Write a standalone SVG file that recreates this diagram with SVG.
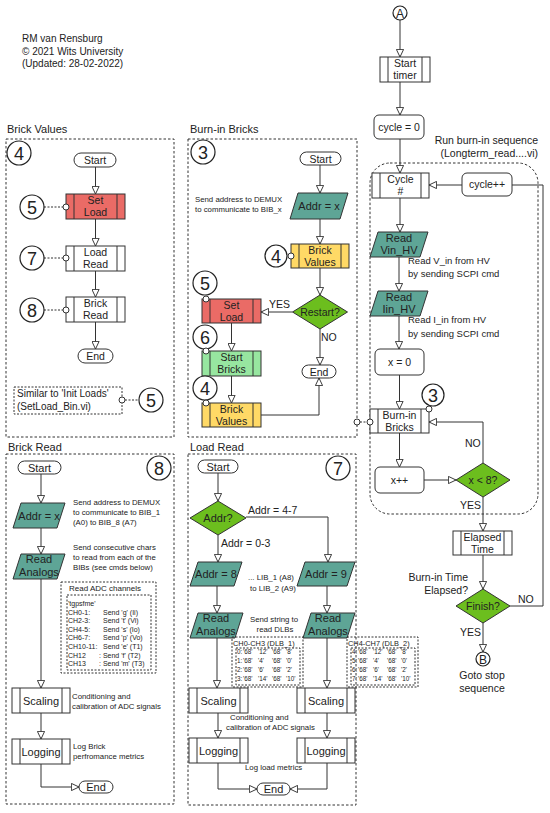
<svg xmlns="http://www.w3.org/2000/svg" width="550" height="813" viewBox="0 0 550 813">
<defs>
<marker id="ah" viewBox="0 0 10 10" refX="10" refY="5" markerWidth="8" markerHeight="8" markerUnits="userSpaceOnUse" orient="auto"><path d="M0.5,0.5 L10,5 L0.5,9.5 z" fill="#fff" stroke="#333" stroke-width="1.2"/></marker>
<style>
text{font-family:"Liberation Sans",Arial,sans-serif;fill:#222}
.t{font-size:10.5px;text-anchor:middle}
.t11{font-size:11px;text-anchor:middle}
.ttl{font-size:11px}
.an{font-size:7.8px}
.an9{font-size:9.5px}
.lbl{font-size:10.5px}
.num{font-size:18px;text-anchor:middle}
.tb{font-size:6.3px}
.tb7{font-size:7px}
.box{stroke:#333;stroke-width:1}
.w{fill:#fff}
.red{fill:#EA6B66}
.yel{fill:#FFD966}
.lg{fill:#97E6A0}
.gr{fill:#6CBE1E}
.teal{fill:#5EA596}
.panel{fill:none;stroke:#333;stroke-width:1;stroke-dasharray:2.5,2}
.dot{fill:none;stroke:#333;stroke-width:1;stroke-dasharray:2,1.5}
.ln{fill:none;stroke:#333;stroke-width:1}
.arr{fill:none;stroke:#333;stroke-width:1;marker-end:url(#ah)}
.sc{fill:#fff;stroke:#333;stroke-width:1}
.cn{fill:#fff;stroke:#222;stroke-width:1.2}
</style>
</defs>
<rect width="550" height="813" fill="#fff"/>

<g id="header">
<text x="22" y="42" style="font-size:10px">RM van Rensburg</text>
<text x="22" y="55" style="font-size:10px">© 2021 Wits University</text>
<text x="22" y="67" style="font-size:10px">(Updated: 28-02-2022)</text>
</g>

<!-- Panels -->
<g id="panel-brick-values">
<text class="ttl" x="7" y="133">Brick Values</text>
<rect class="panel" x="6" y="139" width="168" height="298"/>
<circle class="cn" cx="19" cy="153" r="12"/><text class="num" x="19" y="159.5">4</text>
</g>
<g id="panel-burnin">
<text class="ttl" x="190" y="133">Burn-in Bricks</text>
<rect class="panel" x="188" y="139" width="169" height="298"/>
<circle class="cn" cx="203" cy="152" r="12"/><text class="num" x="203" y="158.5">3</text>
</g>
<g id="panel-brick-read">
<text class="ttl" x="8" y="451">Brick Read</text>
<rect class="panel" x="6" y="454" width="168" height="350"/>
<circle class="cn" cx="159" cy="468" r="12"/><text class="num" x="159" y="474.5">8</text>
</g>
<g id="panel-load-read">
<text class="ttl" x="190" y="451">Load Read</text>
<rect class="panel" x="188" y="454" width="168" height="351"/>
<circle class="cn" cx="338" cy="468" r="12"/><text class="num" x="338" y="474.5">7</text>
</g>
<g id="region-burnin-seq">
<rect class="panel" x="370" y="163" width="168" height="351" rx="20"/>
<text x="538" y="144" style="font-size:10.5px;text-anchor:end">Run burn-in sequence</text>
<text x="538" y="157" style="font-size:10.5px;text-anchor:end">(Longterm_read....vi)</text>
</g>

<!-- Connectors -->
<g id="connectors">
<path class="arr" d="M95.5,167 V194"/>
<path class="arr" d="M95.5,219 V246"/>
<path class="arr" d="M95.5,271 V297"/>
<path class="arr" d="M95.5,322 V349"/>
<path class="dot" d="M44,207 H63 M44,258 H63 M44,310 H63 M125,400 H139"/>
<path class="arr" d="M320,165 V193"/>
<path class="arr" d="M320,219 V244"/>
<path class="arr" d="M320,268 V295"/>
<path class="arr" d="M320,329 V365"/>
<path class="arr" d="M292.5,312 H261"/>
<path class="arr" d="M231.5,323 V351"/>
<path class="arr" d="M231.5,376 V403"/>
<path class="arr" d="M261,415 H319 V378"/>
<path class="dot" d="M360,422 H367"/>
<path class="arr" d="M400,20 V57"/>
<path class="arr" d="M400,82 V115"/>
<path class="arr" d="M400,139 V173"/>
<path class="arr" d="M400,198 V232"/>
<path class="arr" d="M399,257 V291"/>
<path class="arr" d="M399,316 V349"/>
<path class="arr" d="M399.5,375 V409"/>
<path class="arr" d="M399.5,433 V467"/>
<path class="arr" d="M424,480 H456"/>
<path class="arr" d="M483,463 V422 H429"/>
<path class="arr" d="M483,497 V531"/>
<path class="arr" d="M483,555 V589"/>
<path class="ln" d="M510,606 H543 V185 H512"/>
<path class="arr" d="M462,185 H429"/>
<path class="arr" d="M483,623 V652"/>
<path class="arr" d="M41,474 V503"/>
<path class="arr" d="M41,528 V554"/>
<path class="arr" d="M41,579 V688"/>
<path class="arr" d="M41,713 V739"/>
<path class="arr" d="M41,764 V787 H79"/>
<path class="arr" d="M218,473 V501"/>
<path class="arr" d="M246,517 H328 V562"/>
<path class="arr" d="M218,535 V562"/>
<path class="arr" d="M217,586 V613"/>
<path class="arr" d="M327,586 V613"/>
<path class="arr" d="M217,638 V688"/>
<path class="arr" d="M327,638 V688"/>
<path class="arr" d="M218,713 V738"/>
<path class="arr" d="M327,713 V738"/>
<path class="arr" d="M218,763 V789 H257"/>
<path class="arr" d="M327,763 V789 H290"/>
</g>

<!-- Brick Values nodes -->
<g id="bv-start"><rect class="box w" x="74" y="153" width="42" height="14" rx="7"/><text class="t" x="95" y="164">Start</text></g>
<g id="bv-setload"><rect class="box red" x="66" y="194" width="59" height="25"/><path class="ln" d="M74,194 V219 M117,194 V219"/><text class="t" x="95.5" y="204">Set</text><text class="t" x="95.5" y="216">Load</text></g>
<g id="bv-loadread"><rect class="box w" x="66" y="246" width="59" height="25"/><path class="ln" d="M74,246 V271 M117,246 V271"/><text class="t" x="95.5" y="256">Load</text><text class="t" x="95.5" y="268">Read</text></g>
<g id="bv-brickread"><rect class="box w" x="66" y="297" width="59" height="25"/><path class="ln" d="M74,297 V322 M117,297 V322"/><text class="t" x="95.5" y="307">Brick</text><text class="t" x="95.5" y="319">Read</text></g>
<g id="bv-end"><rect class="box w" x="78" y="349" width="35" height="14" rx="7"/><text class="t" x="95.5" y="360">End</text></g>
<g id="bv-refs">
<circle class="cn" cx="32" cy="207" r="12"/><text class="num" x="32" y="213.5">5</text><circle class="sc" cx="66" cy="207" r="3"/>
<circle class="cn" cx="32" cy="258" r="12"/><text class="num" x="32" y="264.5">7</text><circle class="sc" cx="66" cy="258" r="3"/>
<circle class="cn" cx="32" cy="310" r="12"/><text class="num" x="32" y="316.5">8</text><circle class="sc" cx="66" cy="310" r="3"/>
</g>
<g id="bv-note">
<rect class="dot" x="14" y="387" width="108" height="27"/>
<text x="17" y="397" style="font-size:10px">Similar to 'Init Loads'</text>
<text x="17" y="410" style="font-size:10px">(SetLoad_Bin.vi)</text>
<circle class="sc" cx="122" cy="400" r="3"/>
<circle class="cn" cx="151" cy="400" r="12"/><text class="num" x="151" y="406.5">5</text>
</g>

<!-- Burn-in Bricks nodes -->
<g id="bb-start"><rect class="box w" x="300" y="152" width="41" height="13" rx="6.5"/><text class="t" x="320.5" y="162.5">Start</text></g>
<g id="bb-addr"><path class="box teal" d="M298,193 H348 L340,219 H290 Z"/><text class="t11" x="319" y="210">Addr = x</text>
<text class="an" x="195" y="202">Send address to DEMUX</text><text class="an" x="195" y="212">to communicate to BIB_x</text></g>
<g id="bb-bv"><rect class="box yel" x="291" y="244" width="58" height="24"/><path class="ln" d="M299,244 V268 M341,244 V268"/><text class="t" x="320" y="254">Brick</text><text class="t" x="320" y="266">Values</text>
<circle class="cn" cx="276" cy="256" r="11"/><text class="num" x="276" y="262.5">4</text><circle class="sc" cx="291" cy="256" r="3"/></g>
<g id="bb-restart"><path class="box gr" d="M320,295 L347.5,312 L320,329 L292.5,312 Z"/><text class="t" x="320" y="316">Restart?</text>
<text class="lbl" x="269" y="308">YES</text><text class="lbl" x="321" y="341">NO</text></g>
<g id="bb-setload"><rect class="box red" x="202" y="299" width="59" height="24"/><path class="ln" d="M210,299 V323 M253,299 V323"/><text class="t" x="231.5" y="309">Set</text><text class="t" x="231.5" y="321">Load</text>
<circle class="cn" cx="205" cy="283" r="12"/><text class="num" x="205" y="289.5">5</text><circle class="sc" cx="206" cy="299" r="3"/></g>
<g id="bb-startbricks"><rect class="box lg" x="202" y="351" width="59" height="25"/><path class="ln" d="M210,351 V376 M253,351 V376"/><text class="t" x="231.5" y="361">Start</text><text class="t" x="231.5" y="373">Bricks</text>
<circle class="cn" cx="205" cy="337" r="12"/><text class="num" x="205" y="343.5">6</text><circle class="sc" cx="206" cy="351" r="3"/></g>
<g id="bb-bv2"><rect class="box yel" x="202" y="403" width="59" height="24"/><path class="ln" d="M210,403 V427 M253,403 V427"/><text class="t" x="231.5" y="413">Brick</text><text class="t" x="231.5" y="425">Values</text>
<circle class="cn" cx="205" cy="388" r="12"/><text class="num" x="205" y="394.5">4</text><circle class="sc" cx="206" cy="403" r="3"/></g>
<g id="bb-end"><rect class="box w" x="302" y="365" width="34" height="13" rx="6.5"/><text class="t" x="319" y="375.5">End</text></g>
<g id="bb-out"><circle class="sc" cx="357" cy="422" r="3"/></g>

<!-- Right column nodes -->
<g id="rc-a"><circle class="cn" cx="400" cy="13" r="7"/><text x="400" y="17.5" style="font-size:12px;text-anchor:middle">A</text></g>
<g id="rc-starttimer"><rect class="box w" x="380" y="57" width="50" height="25"/><path class="ln" d="M388,57 V82 M422,57 V82"/><text class="t" x="405" y="67">Start</text><text class="t" x="405" y="79">timer</text></g>
<g id="rc-cycle0"><rect class="box w" x="374" y="115" width="50" height="24" rx="5"/><text class="t" x="399" y="131">cycle = 0</text></g>
<g id="rc-cycle"><rect class="box w" x="372" y="173" width="57" height="25"/><path class="ln" d="M380,173 V198 M421,173 V198"/><text class="t" x="400.5" y="183">Cycle</text><text class="t" x="400.5" y="195">#</text></g>
<g id="rc-cyclepp"><rect class="box w" x="462" y="173" width="50" height="23" rx="5"/><text class="t" x="487" y="188">cycle++</text></g>
<g id="rc-vin"><path class="box teal" d="M378,232 H428 L420,257 H370 Z"/><text class="t11" x="399" y="242">Read</text><text class="t11" x="399" y="254">Vin_HV</text>
<text class="an9" x="408" y="264">Read V_in from HV</text><text class="an9" x="408" y="277">by sending SCPI cmd</text></g>
<g id="rc-iin"><path class="box teal" d="M378,291 H428 L420,316 H370 Z"/><text class="t11" x="399" y="301">Read</text><text class="t11" x="399" y="313">Iin_HV</text>
<text class="an9" x="408" y="323">Read I_in from HV</text><text class="an9" x="408" y="337">by sending SCPI cmd</text></g>
<g id="rc-x0"><rect class="box w" x="375" y="349" width="49" height="26" rx="5"/><text class="t" x="399.5" y="366">x = 0</text></g>
<g id="rc-burnin"><rect class="box w" x="370" y="409" width="59" height="24"/><path class="ln" d="M378,409 V433 M421,409 V433"/><text class="t" x="399.5" y="419">Burn-in</text><text class="t" x="399.5" y="431">Bricks</text>
<circle class="sc" cx="370" cy="422" r="3"/>
<circle class="cn" cx="433" cy="395" r="11"/><text class="num" x="433" y="401.5">3</text><circle class="sc" cx="429" cy="409" r="3"/></g>
<g id="rc-xpp"><rect class="box w" x="375" y="467" width="49" height="26" rx="5"/><text class="t" x="399.5" y="484">x++</text></g>
<g id="rc-xlt8"><path class="box gr" d="M483,463 L510,480 L483,497 L456,480 Z"/><text class="t" x="483" y="484">x &lt; 8?</text>
<text class="lbl" x="465" y="447">NO</text><text class="lbl" x="460" y="509">YES</text></g>
<g id="rc-elapsed"><rect class="box w" x="453" y="531" width="59" height="24"/><path class="ln" d="M461,531 V555 M504,531 V555"/><text class="t" x="482.5" y="541">Elapsed</text><text class="t" x="482.5" y="553">Time</text></g>
<g id="rc-finish"><path class="box gr" d="M483,589 L510,606 L483,623 L456,606 Z"/><text class="t" x="483" y="610">Finish?</text>
<text class="lbl" x="468" y="581" text-anchor="end">Burn-in Time</text><text class="lbl" x="468" y="594" text-anchor="end">Elapsed?</text>
<text class="lbl" x="518" y="603">NO</text><text class="lbl" x="460" y="636">YES</text></g>
<g id="rc-b"><circle class="cn" cx="483" cy="659" r="7"/><text x="483" y="663.5" style="font-size:12px;text-anchor:middle">B</text>
<text class="t" x="482" y="679">Goto stop</text><text class="t" x="482" y="692">sequence</text></g>

<!-- Brick Read nodes -->
<g id="br-start"><rect class="box w" x="18" y="461" width="43" height="13" rx="6.5"/><text class="t11" x="39.5" y="471.5">Start</text></g>
<g id="br-addr"><path class="box teal" d="M21,503 H65 L57,528 H13 Z"/><text class="t11" x="39" y="520">Addr = x</text>
<text class="an" x="73" y="505">Send address to DEMUX</text><text class="an" x="73" y="515">to communicate to BIB_1</text><text class="an" x="73" y="525">(A0) to BIB_8 (A7)</text></g>
<g id="br-analogs"><path class="box teal" d="M21,554 H65 L57,579 H13 Z"/><text class="t11" x="39" y="563">Read</text><text class="t11" x="39" y="576">Analogs</text>
<text class="an" x="73" y="550">Send consecutive chars</text><text class="an" x="73" y="560">to read from each of the</text><text class="an" x="73" y="570">BIBs (see cmds below)</text></g>
<g id="br-table">
<rect class="dot" x="61" y="582" width="95" height="91"/>
<rect class="dot" x="67" y="595" width="84" height="75"/>
<text x="69" y="591" style="font-size:8px">Read ADC channels</text>
<text class="tb7" x="68" y="606">'tgpsfme'</text>
<text class="tb7" y="614.6"><tspan x="68">CH0-1:</tspan><tspan x="103">Send 'g' (Ii)</tspan></text>
<text class="tb7" y="623.2"><tspan x="68">CH2-3:</tspan><tspan x="103">Send 't' (Vi)</tspan></text>
<text class="tb7" y="631.8"><tspan x="68">CH4-5:</tspan><tspan x="103">Send 's' (Io)</tspan></text>
<text class="tb7" y="640.4"><tspan x="68">CH6-7:</tspan><tspan x="103">Send 'p' (Vo)</tspan></text>
<text class="tb7" y="649"><tspan x="68">CH10-11:</tspan><tspan x="103">Send 'e' (T1)</tspan></text>
<text class="tb7" y="657.6"><tspan x="68">CH12</tspan><tspan x="99">: Send 'f' (T2)</tspan></text>
<text class="tb7" y="666.2"><tspan x="68">CH13</tspan><tspan x="99">: Send 'm' (T3)</tspan></text>
</g>
<g id="br-scaling"><rect class="box w" x="12" y="688" width="58" height="25"/><path class="ln" d="M20,688 V713 M62,688 V713"/><text class="t11" x="41" y="704.5">Scaling</text>
<text class="an" x="72" y="699">Conditioning and</text><text class="an" x="72" y="709">calibration of ADC signals</text></g>
<g id="br-logging"><rect class="box w" x="12" y="739" width="58" height="25"/><path class="ln" d="M20,739 V764 M62,739 V764"/><text class="t11" x="41" y="755.5">Logging</text>
<text class="an" x="73" y="749">Log Brick</text><text class="an" x="73" y="759">perfromance metrics</text></g>
<g id="br-end"><rect class="box w" x="79" y="781" width="34" height="12" rx="6"/><text class="t11" x="96" y="791">End</text></g>

<!-- Load Read nodes -->
<g id="lr-start"><rect class="box w" x="198" y="460" width="40" height="13" rx="6.5"/><text class="t11" x="218" y="470.5">Start</text></g>
<g id="lr-addrq"><path class="box gr" d="M218,501 L246,518 L218,535 L190,518 Z"/><text class="t11" x="218" y="522">Addr?</text>
<text class="lbl" x="248" y="514">Addr = 4-7</text><text class="lbl" x="221" y="547">Addr = 0-3</text></g>
<g id="lr-addr8"><path class="box teal" d="M198,562 H242 L234,586 H190 Z"/><text class="t11" x="216" y="578">Addr = 8</text>
<text class="an" x="248" y="580">... LIB_1 (A8)</text><text class="an" x="250" y="591">to LIB_2 (A9)</text></g>
<g id="lr-addr9"><path class="box teal" d="M305,562 H355 L347,586 H297 Z"/><text class="t11" x="326" y="578">Addr = 9</text></g>
<g id="lr-analogs1"><path class="box teal" d="M198,613 H243 L235,638 H190 Z"/><text class="t11" x="216" y="622">Read</text><text class="t11" x="216" y="635">Analogs</text>
<text class="an" x="274" y="622" text-anchor="middle">Send string to</text><text class="an" x="275" y="632" text-anchor="middle">read DLBs</text></g>
<g id="lr-analogs2"><path class="box teal" d="M311,613 H355 L347,638 H303 Z"/><text class="t11" x="328" y="622">Read</text><text class="t11" x="328" y="635">Analogs</text></g>
<g id="lr-table1">
<rect class="dot" x="232" y="637" width="71" height="50"/>
<rect class="dot" x="236" y="648" width="64" height="37"/>
<text x="233" y="645.5" style="font-size:7.4px">CH0-CH3 (DLB_1)</text>
<text class="tb" y="654"><tspan x="237">0:</tspan><tspan x="243">'68'</tspan><tspan x="258">'12'</tspan><tspan x="272">'68'</tspan><tspan x="286">'8'</tspan></text>
<text class="tb" y="663"><tspan x="237">1:</tspan><tspan x="243">'68'</tspan><tspan x="258">'4'</tspan><tspan x="272">'68'</tspan><tspan x="286">'0'</tspan></text>
<text class="tb" y="672"><tspan x="237">2:</tspan><tspan x="243">'68'</tspan><tspan x="258">'6'</tspan><tspan x="272">'68'</tspan><tspan x="286">'2'</tspan></text>
<text class="tb" y="681"><tspan x="237">3:</tspan><tspan x="243">'68'</tspan><tspan x="258">'14'</tspan><tspan x="272">'68'</tspan><tspan x="286">'10'</tspan></text>
</g>
<g id="lr-table2">
<rect class="dot" x="347" y="637" width="71" height="50"/>
<rect class="dot" x="351" y="648" width="64" height="37"/>
<text x="348" y="645.5" style="font-size:7.4px">CH4-CH7 (DLB_2)</text>
<text class="tb" y="654"><tspan x="352">4:</tspan><tspan x="358">'68'</tspan><tspan x="373">'12'</tspan><tspan x="387">'68'</tspan><tspan x="401">'8'</tspan></text>
<text class="tb" y="663"><tspan x="352">5:</tspan><tspan x="358">'68'</tspan><tspan x="373">'4'</tspan><tspan x="387">'68'</tspan><tspan x="401">'0'</tspan></text>
<text class="tb" y="672"><tspan x="352">6:</tspan><tspan x="358">'68'</tspan><tspan x="373">'6'</tspan><tspan x="387">'68'</tspan><tspan x="401">'2'</tspan></text>
<text class="tb" y="681"><tspan x="352">7:</tspan><tspan x="358">'68'</tspan><tspan x="373">'14'</tspan><tspan x="387">'68'</tspan><tspan x="401">'10'</tspan></text>
</g>
<g id="lr-scaling1"><rect class="box w" x="189" y="688" width="59" height="25"/><path class="ln" d="M197,688 V713 M240,688 V713"/><text class="t11" x="218.5" y="704.5">Scaling</text></g>
<g id="lr-scaling2"><rect class="box w" x="297" y="688" width="58" height="25"/><path class="ln" d="M305,688 V713 M347,688 V713"/><text class="t11" x="326" y="704.5">Scaling</text>
<text class="an" x="230" y="720">Conditioning and</text><text class="an" x="226" y="730">calibration of ADC signals</text></g>
<g id="lr-logging1"><rect class="box w" x="189" y="738" width="59" height="25"/><path class="ln" d="M197,738 V763 M240,738 V763"/><text class="t11" x="218.5" y="754.5">Logging</text></g>
<g id="lr-logging2"><rect class="box w" x="297" y="738" width="58" height="25"/><path class="ln" d="M305,738 V763 M347,738 V763"/><text class="t11" x="326" y="754.5">Logging</text>
<text class="an" x="245" y="770">Log load metrics</text></g>
<g id="lr-end"><rect class="box w" x="257" y="783" width="33" height="12" rx="6"/><text class="t11" x="273.5" y="793">End</text></g>
</svg>
